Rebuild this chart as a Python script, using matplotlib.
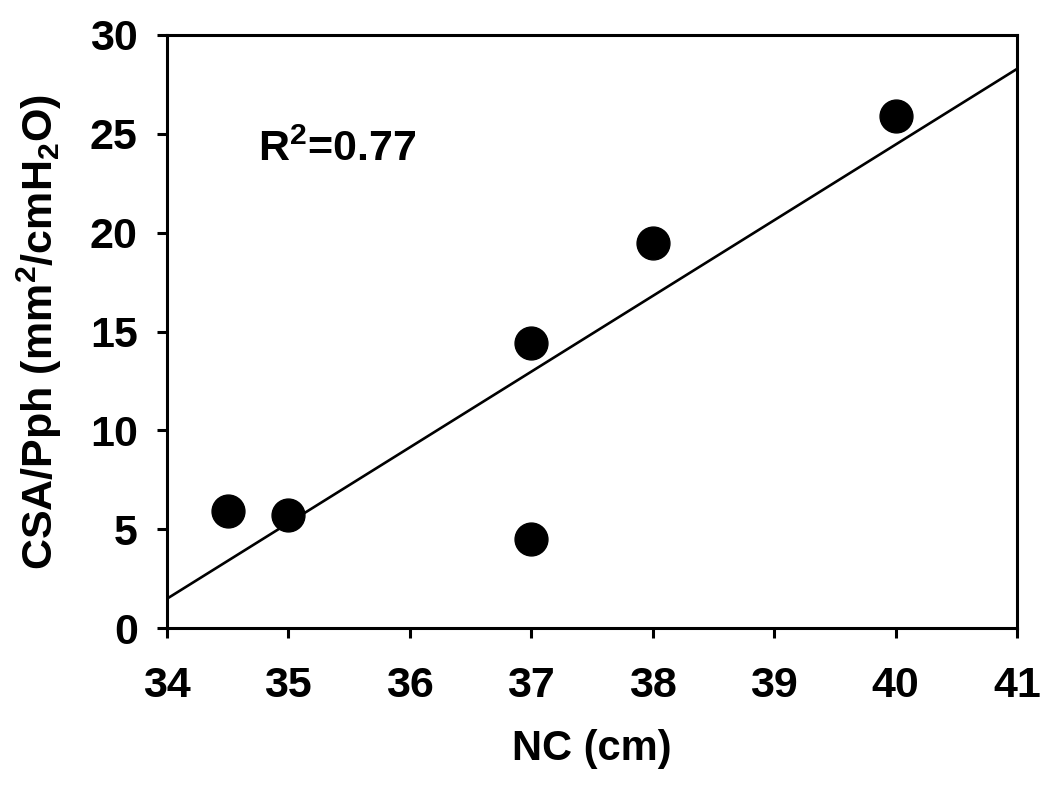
import matplotlib
matplotlib.use("Agg")
import matplotlib.pyplot as plt
import numpy as np

plt.rcParams["font.family"] = ["Liberation Sans", "DejaVu Sans"]
plt.rcParams["font.weight"] = "bold"
plt.rcParams["mathtext.fontset"] = "custom"
plt.rcParams["mathtext.rm"] = "Liberation Sans:bold"
plt.rcParams["mathtext.it"] = "Liberation Sans:bold"
plt.rcParams["mathtext.bf"] = "Liberation Sans:bold"

# data
nc_cm = [34.5, 35.0, 37.0, 37.0, 38.0, 40.0]
csa_pph = [5.9, 5.7, 14.4, 4.5, 19.5, 25.9]
x_ticks = [34, 35, 36, 37, 38, 39, 40, 41]
y_ticks = [0, 5, 10, 15, 20, 25, 30]

slope, icpt = np.polyfit(nc_cm, csa_pph, 1)
r2 = np.corrcoef(nc_cm, csa_pph)[0, 1] ** 2

fig = plt.figure(figsize=(10.5, 7.91), dpi=100)
ax = fig.add_axes([0.159, 0.206, 0.8096, 0.7498])

xl = np.array([34, 41])
ax.plot(xl, slope * xl + icpt, color="black", lw=1.9, zorder=2)
ax.scatter(nc_cm, csa_pph, s=560, color="black", zorder=3, clip_on=False)

ax.set_xlim(34, 41); ax.set_ylim(0, 30)
ax.set_xticks(x_ticks); ax.set_yticks(y_ticks)
for s in ax.spines.values():
    s.set_linewidth(2.2)
ax.tick_params(direction="out", length=7, width=2.2, labelsize=31)
ax.tick_params(axis="x", pad=20)
ax.tick_params(axis="y", pad=14)
for t in ax.get_xticklabels() + ax.get_yticklabels():
    t.set_fontweight("bold")

ax.set_xlabel("NC (cm)", fontsize=30, fontweight="bold", labelpad=17)
ax.set_ylabel(r"CSA/Pph (mm$^{2}$/cmH$_{2}$O)", fontsize=31, fontweight="bold", labelpad=19)
ax.text(34.75, 24.2, "R$^{2}$=%.2f" % r2, fontsize=31, fontweight="bold", va="center", ha="left")

fig.savefig("out.png", dpi=100)
